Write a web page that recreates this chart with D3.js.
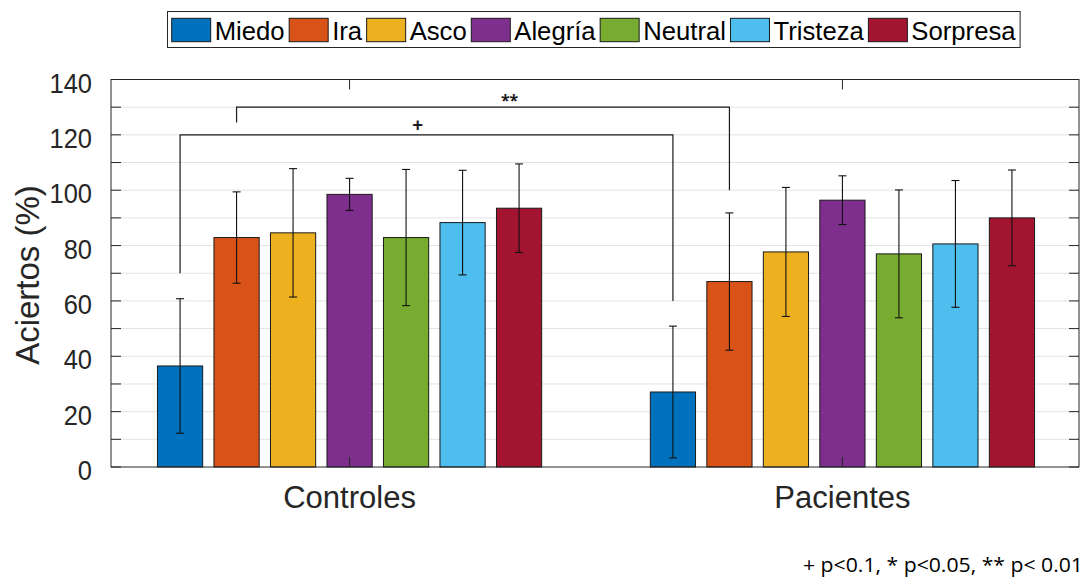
<!DOCTYPE html>
<html>
<head>
<meta charset="utf-8">
<script src="https://cdn.jsdelivr.net/npm/d3@7"></script>
<style>
  html, body { margin: 0; padding: 0; background: #fff; }
  svg { display: block; }
</style>
</head>
<body>
<svg id="chart" width="1086" height="580"></svg>
<script>
// ---------- data ----------
const groups = ["Controles", "Pacientes"];
const emotions = ["Miedo", "Ira", "Asco", "Alegría", "Neutral", "Tristeza", "Sorpresa"];
const colors = ["#0072BD", "#D95319", "#EDB120", "#7E2F8E", "#77AC30", "#4DBEEE", "#A2142F"];
const controlesMean = [36.5, 82.9, 84.6, 98.5, 82.9, 88.3, 93.5];
const controlesErr  = [24.3, 16.5, 23.2, 5.8, 24.6, 18.9, 16.0];
const pacientesMean = [27.1, 67.0, 77.7, 96.4, 77.0, 80.6, 90.0];
const pacientesErr  = [23.8, 24.8, 23.3, 8.8, 23.1, 22.9, 17.3];
const yTicks = [0, 20, 40, 60, 80, 100, 120, 140];
const yMinorTicks = [0, 10, 20, 30, 40, 50, 60, 70, 80, 90, 100, 110, 120, 130, 140];
const brackets = [
  { label: "+",  from: ["Controles", "Miedo", 70],  to: ["Pacientes", "Miedo", 60],  top: 120, labelPos: 0.482 },
  { label: "**", from: ["Controles", "Ira", 124.5], to: ["Pacientes", "Ira", 100],   top: 130, labelPos: 0.554 }
];
const yLabel = "Aciertos (%)";
const footnote = "+ p<0.1, * p<0.05, ** p< 0.01";

// ---------- layout ----------
const svg = d3.select("#chart");
const plot = { left: 111, right: 1079, top: 79.5, bottom: 467 };
const axisColor = "#262626";

const y = d3.scaleLinear().domain([0, 140]).range([plot.bottom, plot.top]);
const xGroup = d3.scalePoint().domain(groups).range([plot.left + 2, plot.right]).padding(0.48);
const xInner = d3.scaleBand().domain(emotions).range([-197.75, 197.75]).paddingInner(0.2).paddingOuter(0.1);
const color = d3.scaleOrdinal().domain(emotions).range(colors);
const barCenter = (g, e) => xGroup(g) + xInner(e) + xInner.bandwidth() / 2;

const data = [];
groups.forEach((g, gi) => {
  const means = gi === 0 ? controlesMean : pacientesMean;
  const errs = gi === 0 ? controlesErr : pacientesErr;
  emotions.forEach((e, i) => data.push({ group: g, emotion: e, mean: means[i], err: errs[i] }));
});

// grid
svg.append("g").selectAll("line").data(yMinorTicks.filter(t => t > 0 && t < 140)).join("line")
  .attr("x1", plot.left).attr("x2", plot.right)
  .attr("y1", d => y(d)).attr("y2", d => y(d))
  .attr("stroke", "#e3e3e3").attr("stroke-width", 1);

// bars
svg.append("g").selectAll("rect").data(data).join("rect")
  .attr("x", d => xGroup(d.group) + xInner(d.emotion))
  .attr("y", d => y(d.mean))
  .attr("width", xInner.bandwidth())
  .attr("height", d => y(0) - y(d.mean))
  .attr("fill", d => color(d.emotion))
  .attr("stroke", "#1a1a1a").attr("stroke-width", 1);

// error bars
const eb = svg.append("g").attr("stroke", "#111").attr("stroke-width", 1.1);
data.forEach(d => {
  const cx = barCenter(d.group, d.emotion);
  eb.append("line").attr("x1", cx).attr("x2", cx).attr("y1", y(d.mean - d.err)).attr("y2", y(d.mean + d.err));
  [d.mean - d.err, d.mean + d.err].forEach(v => {
    eb.append("line").attr("x1", cx - 4).attr("x2", cx + 4).attr("y1", y(v)).attr("y2", y(v));
  });
});

// significance brackets
const bg = svg.append("g");
brackets.forEach(b => {
  const x1 = barCenter(b.from[0], b.from[1]);
  const x2 = barCenter(b.to[0], b.to[1]);
  const path = d3.path();
  path.moveTo(x1, y(b.from[2]));
  path.lineTo(x1, y(b.top));
  path.lineTo(x2, y(b.top));
  path.lineTo(x2, y(b.to[2]));
  bg.append("path").attr("d", path.toString()).attr("fill", "none").attr("stroke", "#1a1a1a").attr("stroke-width", 1.2);
  bg.append("text")
    .attr("x", x1 + (x2 - x1) * b.labelPos)
    .attr("y", y(b.top) - (b.label === "+" ? 3 : 1))
    .attr("text-anchor", "middle")
    .attr("font-family", "'Noto Sans', 'DejaVu Sans', sans-serif")
    .attr("font-weight", "bold")
    .attr("font-size", b.label === "+" ? 19 : 16)
    .attr("fill", "#1a1a1a")
    .text(b.label);
});

// axes box
const ax = svg.append("g").attr("stroke", axisColor).attr("stroke-width", 1).attr("fill", "none");
ax.append("rect").attr("x", plot.left).attr("y", plot.top)
  .attr("width", plot.right - plot.left).attr("height", plot.bottom - plot.top);
// y ticks (inward, both sides)
yMinorTicks.forEach(t => {
  ax.append("line").attr("x1", plot.left).attr("x2", plot.left + 10).attr("y1", y(t)).attr("y2", y(t));
  ax.append("line").attr("x1", plot.right).attr("x2", plot.right - 10).attr("y1", y(t)).attr("y2", y(t));
});
// x ticks (inward, top & bottom)
groups.forEach(g => {
  ax.append("line").attr("x1", xGroup(g)).attr("x2", xGroup(g)).attr("y1", plot.bottom).attr("y2", plot.bottom - 10);
  ax.append("line").attr("x1", xGroup(g)).attr("x2", xGroup(g)).attr("y1", plot.top).attr("y2", plot.top + 10);
});

const fontMain = "'Liberation Sans', Arial, Helvetica, sans-serif";
// y tick labels (slightly tall, like the reference)
svg.append("g").selectAll("text").data(yTicks).join("text")
  .attr("transform", d => `translate(92,${y(d) + 13}) scale(1,1.12)`)
  .attr("text-anchor", "end")
  .attr("font-family", fontMain).attr("font-size", 25.5)
  .attr("fill", axisColor)
  .text(d => d);

// x category labels
svg.append("g").selectAll("text").data(groups).join("text")
  .attr("x", d => xGroup(d)).attr("y", 508)
  .attr("text-anchor", "middle")
  .attr("font-family", fontMain).attr("font-size", 31)
  .attr("fill", axisColor)
  .text(d => d);

// y label
svg.append("text")
  .attr("transform", "translate(39,275) rotate(-90)")
  .attr("text-anchor", "middle")
  .attr("font-family", fontMain).attr("font-size", 33)
  .attr("fill", axisColor)
  .text(yLabel);

// legend
const lg = svg.append("g");
const lgBox = lg.append("rect").attr("x", 167.5).attr("y", 11.5).attr("height", 36)
  .attr("fill", "#fff").attr("stroke", "#262626").attr("stroke-width", 1);
let lx = 171.7;
emotions.forEach(e => {
  lg.append("rect").attr("x", lx).attr("y", 18.3).attr("width", 39).attr("height", 23.4)
    .attr("fill", color(e)).attr("stroke", "#1a1a1a").attr("stroke-width", 1);
  const t = lg.append("text").attr("x", lx + 43).attr("y", 39.5)
    .attr("font-family", fontMain).attr("font-size", 25.7).attr("fill", "#000").text(e);
  lx += 43 + t.node().getComputedTextLength() + 4.5;
});
lgBox.attr("width", lx - 167.5);

// footnote
svg.append("text")
  .attr("x", 1083).attr("y", 572)
  .attr("text-anchor", "end")
  .attr("font-family", "'Open Sans', 'Noto Sans', sans-serif").attr("font-size", 19.5)
  .attr("textLength", 280).attr("lengthAdjust", "spacingAndGlyphs")
  .attr("fill", "#000")
  .text(footnote);
</script>
</body>
</html>
